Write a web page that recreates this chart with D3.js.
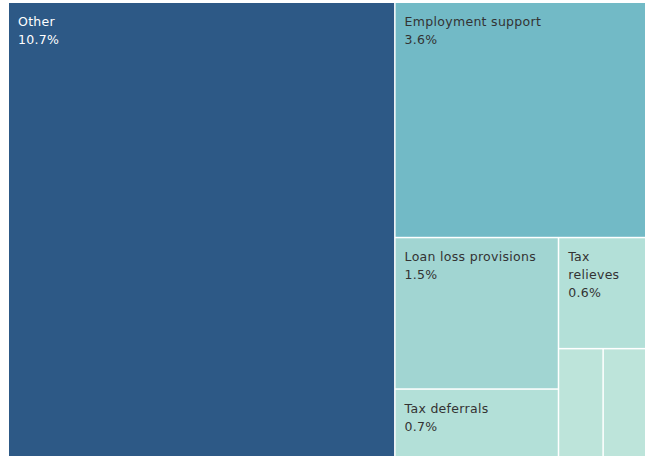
<!DOCTYPE html>
<html><head><meta charset="utf-8">
<script src="https://cdn.jsdelivr.net/npm/d3@7"></script>
<style>body{margin:0;background:#fff;overflow:hidden}svg{display:block}</style>
</head><body>
<script>
const categories = ["Other","Employment support","Loan loss provisions","Tax deferrals","Tax relieves","Measure A","Measure B"];
const values = [10.7, 3.6, 1.5, 0.7, 0.6, 0.3, 0.3];
const labels = ["10.7%","3.6%","1.5%","0.7%","0.6%","",""];
const showLabel = [true,true,true,true,true,false,false];
const colors = ["#2d5986","#72bac6","#a1d5d2","#b3e0d8","#b3e0d8","#bde4da","#bde4da"];

const W = 645, H = 456;
const svg = d3.select("body").append("svg").attr("width", W).attr("height", H);

const root = d3.hierarchy({children: categories.map((c,i)=>({name:c, value:values[i], label:labels[i], show:showLabel[i], color:colors[i]}))})
  .sum(d => d.value || 0)
  .sort((a,b) => b.value - a.value);

d3.treemap().tile(d3.treemapSquarify).size([638, 456]).paddingInner(1.5).round(false)(root);

const g = svg.append("g").attr("transform","translate(9,3)");
const cell = g.selectAll("g").data(root.leaves()).join("g")
  .attr("transform", d => `translate(${d.x0},${d.y0})`);
cell.append("rect")
  .attr("width", d => d.x1 - d.x0)
  .attr("height", d => d.y1 - d.y0)
  .attr("fill", d => d.data.color);

cell.filter(d => d.data.show).each(function(d){
  const sel = d3.select(this);
  const fill = d.data.name === "Other" ? "#ffffff" : "#333333";
  const t = sel.append("text").attr("x", 9).attr("y", 23)
    .attr("font-family", "'DejaVu Sans', sans-serif").attr("font-size", 12.5)
    .attr("letter-spacing", 0.3).attr("fill", fill);
  const maxW = (d.x1 - d.x0) - 22;
  const words = d.data.name.split(" ");
  const lines = [];
  let cur = [];
  const probe = t.append("tspan");
  words.forEach(w => {
    const trial = cur.concat([w]).join(" ");
    probe.text(trial);
    if (probe.node().getComputedTextLength() > maxW && cur.length) { lines.push(cur.join(" ")); cur = [w]; }
    else cur.push(w);
  });
  lines.push(cur.join(" "));
  probe.remove();
  lines.concat([d.data.label]).forEach((ln, i) => {
    t.append("tspan").attr("x", 9).attr("dy", i ? 18 : 0).text(ln);
  });
});
</script>
</body></html>
